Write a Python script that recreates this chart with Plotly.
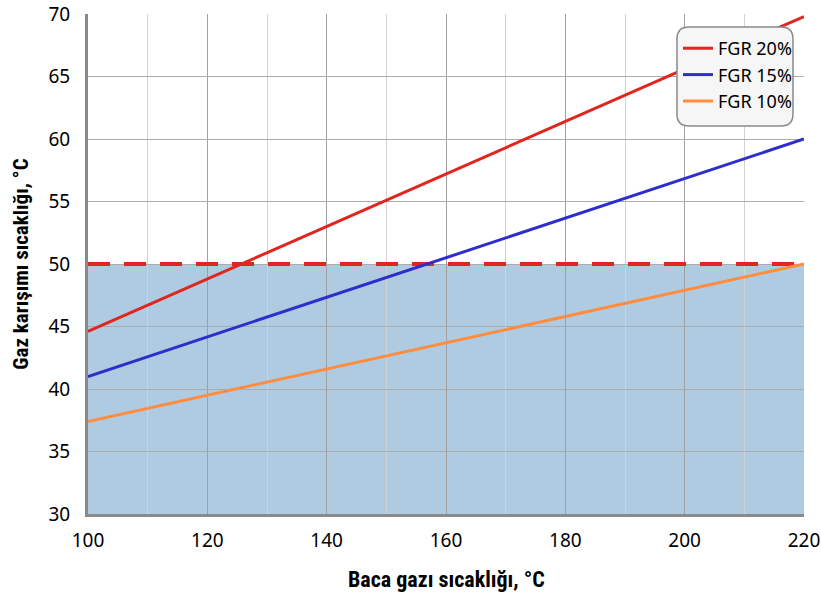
import plotly.graph_objects as go

x_vals = [100, 220]
fgr20 = [44.6, 69.8]
fgr15 = [41.0, 60.0]
fgr10 = [37.4, 50.0]
limit = 50
names = ["FGR 20%", "FGR 15%", "FGR 10%"]
colors = ["#e0261e", "#2e2ecc", "#ff8c3f"]

FONT = "Noto Sans, sans-serif"
TFONT = "Roboto Condensed, Liberation Sans Narrow, Noto Sans, sans-serif"

fig = go.Figure()
fig.add_trace(go.Scatter(x=x_vals, y=[limit, limit], mode="lines",
                         line=dict(color="#e0261e", width=4, dash="22px,14px"),
                         showlegend=False, hoverinfo="skip"))
for y, n, c in zip([fgr20, fgr15, fgr10], names, colors):
    fig.add_trace(go.Scatter(x=x_vals, y=y, mode="lines", name=n,
                             line=dict(color=c, width=3)))

fig.add_shape(type="rect", xref="x", yref="y", x0=x_vals[0], x1=x_vals[1],
              y0=30, y1=limit, fillcolor="#afcbe1", line_width=0, layer="below")

x0, x1, y0, y1 = 0.8226, 0.9846, 0.776, 0.974
rx, ry = 12 / 716, 12 / 500
path = (f"M {x0+rx},{y1} L {x1-rx},{y1} Q {x1},{y1} {x1},{y1-ry} "
        f"L {x1},{y0+ry} Q {x1},{y0} {x1-rx},{y0} L {x0+rx},{y0} "
        f"Q {x0},{y0} {x0},{y0+ry} L {x0},{y1-ry} Q {x0},{y1} {x0+rx},{y1} Z")
fig.add_shape(type="path", path=path, xref="paper", yref="paper",
              fillcolor="#f6f6f6", line=dict(color="#8a8a8a", width=1.5), layer="above")

fig.add_annotation(text="<b>Baca gazı sıcaklığı, °C</b>", xref="paper", yref="paper",
                   x=0.5, y=-0.13, xanchor="center", yanchor="middle", showarrow=False,
                   borderpad=0, font=dict(size=22, family=TFONT, color="black"))
fig.add_annotation(text="<b>Gaz karışımı sıcaklığı, °C</b>", xref="paper", yref="paper",
                   x=-0.094, y=0.5, xanchor="center", yanchor="middle", showarrow=False,
                   borderpad=0, textangle=-90, font=dict(size=21, family=TFONT, color="black"))

fig.update_layout(
    width=821, height=599,
    margin=dict(l=88, r=17, t=14, b=85, autoexpand=False),
    plot_bgcolor="white", paper_bgcolor="white",
    font=dict(family=FONT, size=19, color="black"),
    legend=dict(x=0.824, y=0.968, xanchor="left", yanchor="top",
                bgcolor="rgba(0,0,0,0)", font=dict(size=18, family=FONT),
                itemwidth=30, tracegroupgap=0),
    xaxis=dict(range=[100, 220], dtick=20, tick0=100, showgrid=True,
               gridcolor="#a0a0a0", gridwidth=1.3,
               minor=dict(dtick=10, showgrid=True, gridcolor="#d2d2d2", gridwidth=1.2),
               showline=True, linecolor="#8a8a8a", linewidth=3,
               ticks="", ticklen=0, zeroline=False, automargin=False,
               ticklabelstandoff=7, ticklabeloverflow="allow",
               tickfont=dict(size=19, family=FONT)),
    yaxis=dict(range=[30, 70], dtick=5, showgrid=True,
               gridcolor="#acacac", gridwidth=1.3,
               showline=True, linecolor="#8a8a8a", linewidth=3,
               ticks="", zeroline=False, automargin=False,
               ticklabelstandoff=11, ticklabeloverflow="allow",
               tickfont=dict(size=19, family=FONT)),
)

fig.write_html("out.html", config={"displayModeBar": False},
               post_script="document.body.style.margin='0';document.body.style.overflow='hidden';")
